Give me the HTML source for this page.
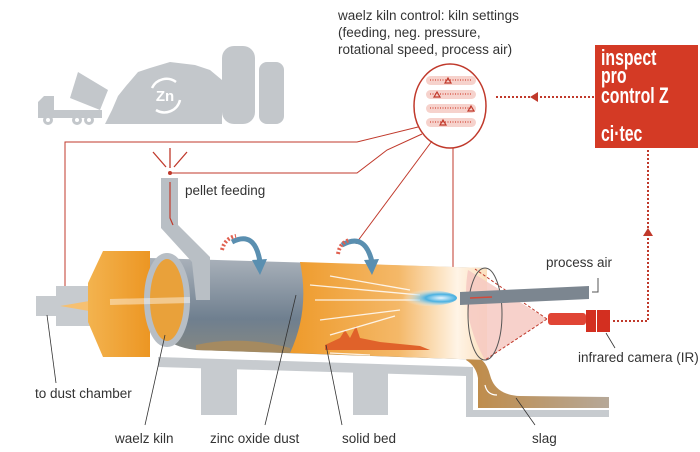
<!DOCTYPE html>
<html><head><meta charset="utf-8"><style>
html,body{margin:0;padding:0;background:#fff}
svg{display:block}
text{font-family:"Liberation Sans",sans-serif;fill:#333}
</style></head><body>
<svg width="700" height="452" viewBox="0 0 700 452" xmlns="http://www.w3.org/2000/svg">
<defs>
<linearGradient id="og" x1="0" y1="0" x2="1" y2="0">
<stop offset="0" stop-color="#ee9a2a"/><stop offset="0.55" stop-color="#f4b868"/><stop offset="0.85" stop-color="#fff4e6"/><stop offset="1" stop-color="#fbe0bd"/>
</linearGradient>
<linearGradient id="hood" x1="0" y1="0" x2="1" y2="0">
<stop offset="0" stop-color="#f3b34f"/><stop offset="1" stop-color="#ec9623"/>
</linearGradient>
<linearGradient id="gr" x1="0" y1="0" x2="0" y2="1">
<stop offset="0" stop-color="#a9b1ba"/><stop offset="0.6" stop-color="#6f7f8f"/><stop offset="1" stop-color="#8a8a80"/>
</linearGradient>
<linearGradient id="slag" x1="0" y1="0" x2="1" y2="0">
<stop offset="0" stop-color="#c08a45"/><stop offset="1" stop-color="#b6a898"/>
</linearGradient>
<radialGradient id="flame" cx="0.75" cy="0.5" r="0.6">
<stop offset="0" stop-color="#e8f6ff"/><stop offset="0.4" stop-color="#49b0e0"/><stop offset="1" stop-color="#ffffff" stop-opacity="0"/>
</radialGradient>
</defs>

<!-- top industrial icon -->
<g fill="#c3c7cb">
<rect x="222" y="46" width="33" height="78" rx="12"/>
<rect x="259" y="62" width="25" height="62" rx="8"/>
<path d="M105 124 L112 110 L118 96 L126 86 L138 72 L150 68 L170 62 L195 65 L210 70 L222 80 L222 124 Z"/>
<path d="M38 102 L44 96 L54 96 L54 110 L102 110 L102 118 L38 118 Z"/>
<path d="M70 98 L78 72 L108 90 L100 110 Z"/>
<circle cx="48" cy="120" r="5"/><circle cx="77" cy="120" r="5"/><circle cx="89" cy="120" r="5"/>
</g>
<circle cx="48" cy="120" r="2" fill="#fff"/><circle cx="77" cy="120" r="2" fill="#fff"/><circle cx="89" cy="120" r="2" fill="#fff"/>
<path d="M152 88 A16 16 0 0 1 176 82 M180 100 A16 16 0 0 1 156 110" stroke="#fff" stroke-width="2.5" fill="none"/>
<text x="165" y="101" font-size="15" font-weight="bold" text-anchor="middle" style="fill:#fff">Zn</text>

<!-- top text -->
<g font-size="13.5">
<text x="338" y="20">waelz kiln control: kiln settings</text>
<text x="338" y="37">(feeding, neg. pressure,</text>
<text x="338" y="54">rotational speed, process air)</text>
</g>

<!-- control circle -->
<ellipse cx="450" cy="106" rx="36" ry="42" fill="#fff" stroke="#c0392b" stroke-width="1.5"/>
<g fill="#f6d2cc">
<rect x="426" y="76" width="50" height="9" rx="4.5"/>
<rect x="426" y="90" width="50" height="9" rx="4.5"/>
<rect x="426" y="104" width="50" height="9" rx="4.5"/>
<rect x="426" y="118" width="50" height="9" rx="4.5"/>
</g>
<g stroke="#d3493a" stroke-width="1.2" stroke-dasharray="1 1.5">
<line x1="430" y1="80" x2="472" y2="80"/><line x1="430" y1="94" x2="472" y2="94"/>
<line x1="430" y1="108" x2="472" y2="108"/><line x1="430" y1="122" x2="472" y2="122"/>
</g>
<g fill="none" stroke="#c0392b" stroke-width="1.2">
<path d="M445 83 l3 -5 l3 5 z"/><path d="M434 97 l3 -5 l3 5 z"/><path d="M468 111 l3 -5 l3 5 z"/><path d="M440 125 l3 -5 l3 5 z"/>
</g>

<!-- red box -->
<rect x="595" y="45" width="103" height="103" fill="#d43a25"/>
<g font-weight="bold" font-size="22" transform="translate(601 0) scale(0.72 1)">
<text x="0" y="65" style="fill:#fff">inspect</text>
<text x="0" y="83" style="fill:#fff">pro</text>
<text x="0" y="103" style="fill:#fff">control Z</text>
<text x="0" y="141" style="fill:#fff">ci·tec</text>
</g>
<line x1="594" y1="97" x2="496" y2="97" stroke="#c0392b" stroke-width="2" stroke-dasharray="2 2"/>
<path d="M538 92 l-8 5 l8 5 z" fill="#c0392b"/>

<!-- red control lines -->
<g stroke="#c0392b" stroke-width="1" fill="none">
<path d="M418 127 L357 142 L65 142 L65 305"/>
<path d="M422 134 L387 150 L357 173 L170 173"/>
<path d="M432 141 L357 242"/>
<path d="M453 148 L453 300"/>
</g>
<circle cx="65" cy="305" r="2" fill="#c0392b"/>
<circle cx="170" cy="173" r="2" fill="#c0392b"/>
<circle cx="357" cy="242" r="2" fill="#c0392b"/>
<g stroke="#c0392b" stroke-width="1.3">
<line x1="153" y1="152" x2="166" y2="167"/><line x1="170" y1="148" x2="170" y2="168"/><line x1="187" y1="152" x2="174" y2="167"/>
</g>

<!-- base stand -->
<g fill="#c7cbcf">
<path d="M158 357 L473 367 L473 410 L609 410 L609 417 L466 417 L466 376 L158 367 Z"/>
<rect x="201" y="367" width="36" height="48"/>
<rect x="353" y="370" width="35" height="45"/>
</g>
<path d="M470 355 Q485 356 490 375 Q495 395 520 396 L609 397 L609 408 L478 408 L478 378 Q476 366 466 360 Z" fill="url(#slag)"/>
<path d="M485 385 q2 10 12 10" stroke="#fff" stroke-width="1.2" fill="none"/>

<!-- outlet pipe -->
<rect x="36" y="296" width="30" height="20" fill="#c7cbcf"/>
<rect x="56" y="286" width="34" height="40" fill="#c7cbcf"/>
<path d="M60 306 L95 300 L95 312 Z" fill="#f6c071"/>

<!-- hood -->
<path d="M88 283 L103 251 L150 251 L150 357 L103 357 L88 322 Z" fill="url(#hood)"/>

<!-- kiln tube -->
<path d="M150 258 L487 268 L487 360 L196 350 Q150 345 150 300 Z" fill="url(#gr)"/>
<path d="M300 262 L487 268 L487 360 L290 353 Q310 310 300 262 Z" fill="url(#og)"/>
<ellipse cx="167" cy="300" rx="20" ry="44" fill="#e9a13a" stroke="#b7bec5" stroke-width="6"/>
<path d="M196 345 Q240 335 290 348 L290 353 L196 350 Z" fill="#a58a60"/>
<path d="M325 345 L340 338 L345 330 L350 338 L356 326 L360 338 L380 342 L420 346 L430 350 L325 350 Z" fill="#e0622a"/>
<g stroke="#fff" stroke-width="1.3" opacity="0.85">
<line x1="420" y1="295" x2="310" y2="285"/><line x1="420" y1="300" x2="315" y2="300"/>
<line x1="410" y1="290" x2="330" y2="276"/><line x1="400" y1="310" x2="320" y2="320"/>
<line x1="395" y1="316" x2="330" y2="335"/><line x1="330" y1="353" x2="370" y2="355"/>
<line x1="190" y1="300" x2="110" y2="302" stroke-width="6" opacity="0.5"/>
</g>
<ellipse cx="425" cy="298" rx="32" ry="8" fill="url(#flame)"/>
<g fill="none" stroke="#5a8fb0" stroke-width="5">
<path d="M232 242 Q255 230 260 262"/><path d="M342 245 Q365 232 372 262"/>
</g>
<path d="M252 260 L260 275 L267 259 Z" fill="#5a8fb0"/>
<path d="M364 260 L372 275 L379 259 Z" fill="#5a8fb0"/>
<path d="M222 250 Q225 238 236 236" stroke="#e06050" stroke-width="4" stroke-dasharray="2 2" fill="none"/>
<path d="M338 254 Q340 242 350 240" stroke="#e06050" stroke-width="4" stroke-dasharray="2 2" fill="none"/>

<!-- chute -->
<path d="M161 178 L178 178 L178 225 L210 257 L210 300 L196 300 L192 262 L161 228 Z" fill="#b9bfc5"/>
<path d="M170 182 L170 218 L173 225" stroke="#c0392b" stroke-width="1.2" fill="none"/>

<!-- right end / cone -->
<path d="M547 319 L468 270 Q460 315 485 360 Z" fill="#f6c9c2" opacity="0.85"/>
<path d="M547 319 L475 269 M547 319 L485 360" stroke="#c0392b" stroke-width="1" stroke-dasharray="3 2" fill="none"/>
<ellipse cx="485" cy="314" rx="17" ry="46" fill="none" stroke="#555" stroke-width="1"/>
<path d="M460 292 L589 286 L589 299 L460 305 Z" fill="#7c8690"/>
<line x1="470" y1="298" x2="492" y2="297" stroke="#d3493a" stroke-width="1.5"/>
<path d="M592 292 L598 292 L598 278" stroke="#555" fill="none"/>
<rect x="548" y="313" width="38" height="12" rx="3" fill="#e04535"/>
<rect x="586" y="310" width="10" height="22" fill="#d32f20"/>
<rect x="597" y="310" width="13" height="22" fill="#d32f20"/>
<path d="M613 321 L648 321 L648 150" stroke="#c0392b" stroke-width="2" stroke-dasharray="2 2" fill="none"/>
<path d="M643 236 l5 -8 l5 8 z" fill="#c0392b"/>

<!-- leader lines -->
<g stroke="#333" stroke-width="0.8">
<line x1="47" y1="315" x2="56" y2="383"/>
<line x1="165" y1="335" x2="145" y2="425"/>
<line x1="296" y1="295" x2="265" y2="425"/>
<line x1="326" y1="345" x2="342" y2="425"/>
<line x1="516" y1="398" x2="535" y2="425"/>
<line x1="606" y1="333" x2="615" y2="348"/>
</g>

<!-- labels -->
<g font-size="13.5">
<text x="185" y="195">pellet feeding</text>
<text x="546" y="267">process air</text>
<text x="578" y="362">infrared camera (IR)</text>
<text x="35" y="398">to dust chamber</text>
<text x="115" y="443">waelz kiln</text>
<text x="210" y="443">zinc oxide dust</text>
<text x="342" y="443">solid bed</text>
<text x="532" y="443">slag</text>
</g>
</svg>
</body></html>
